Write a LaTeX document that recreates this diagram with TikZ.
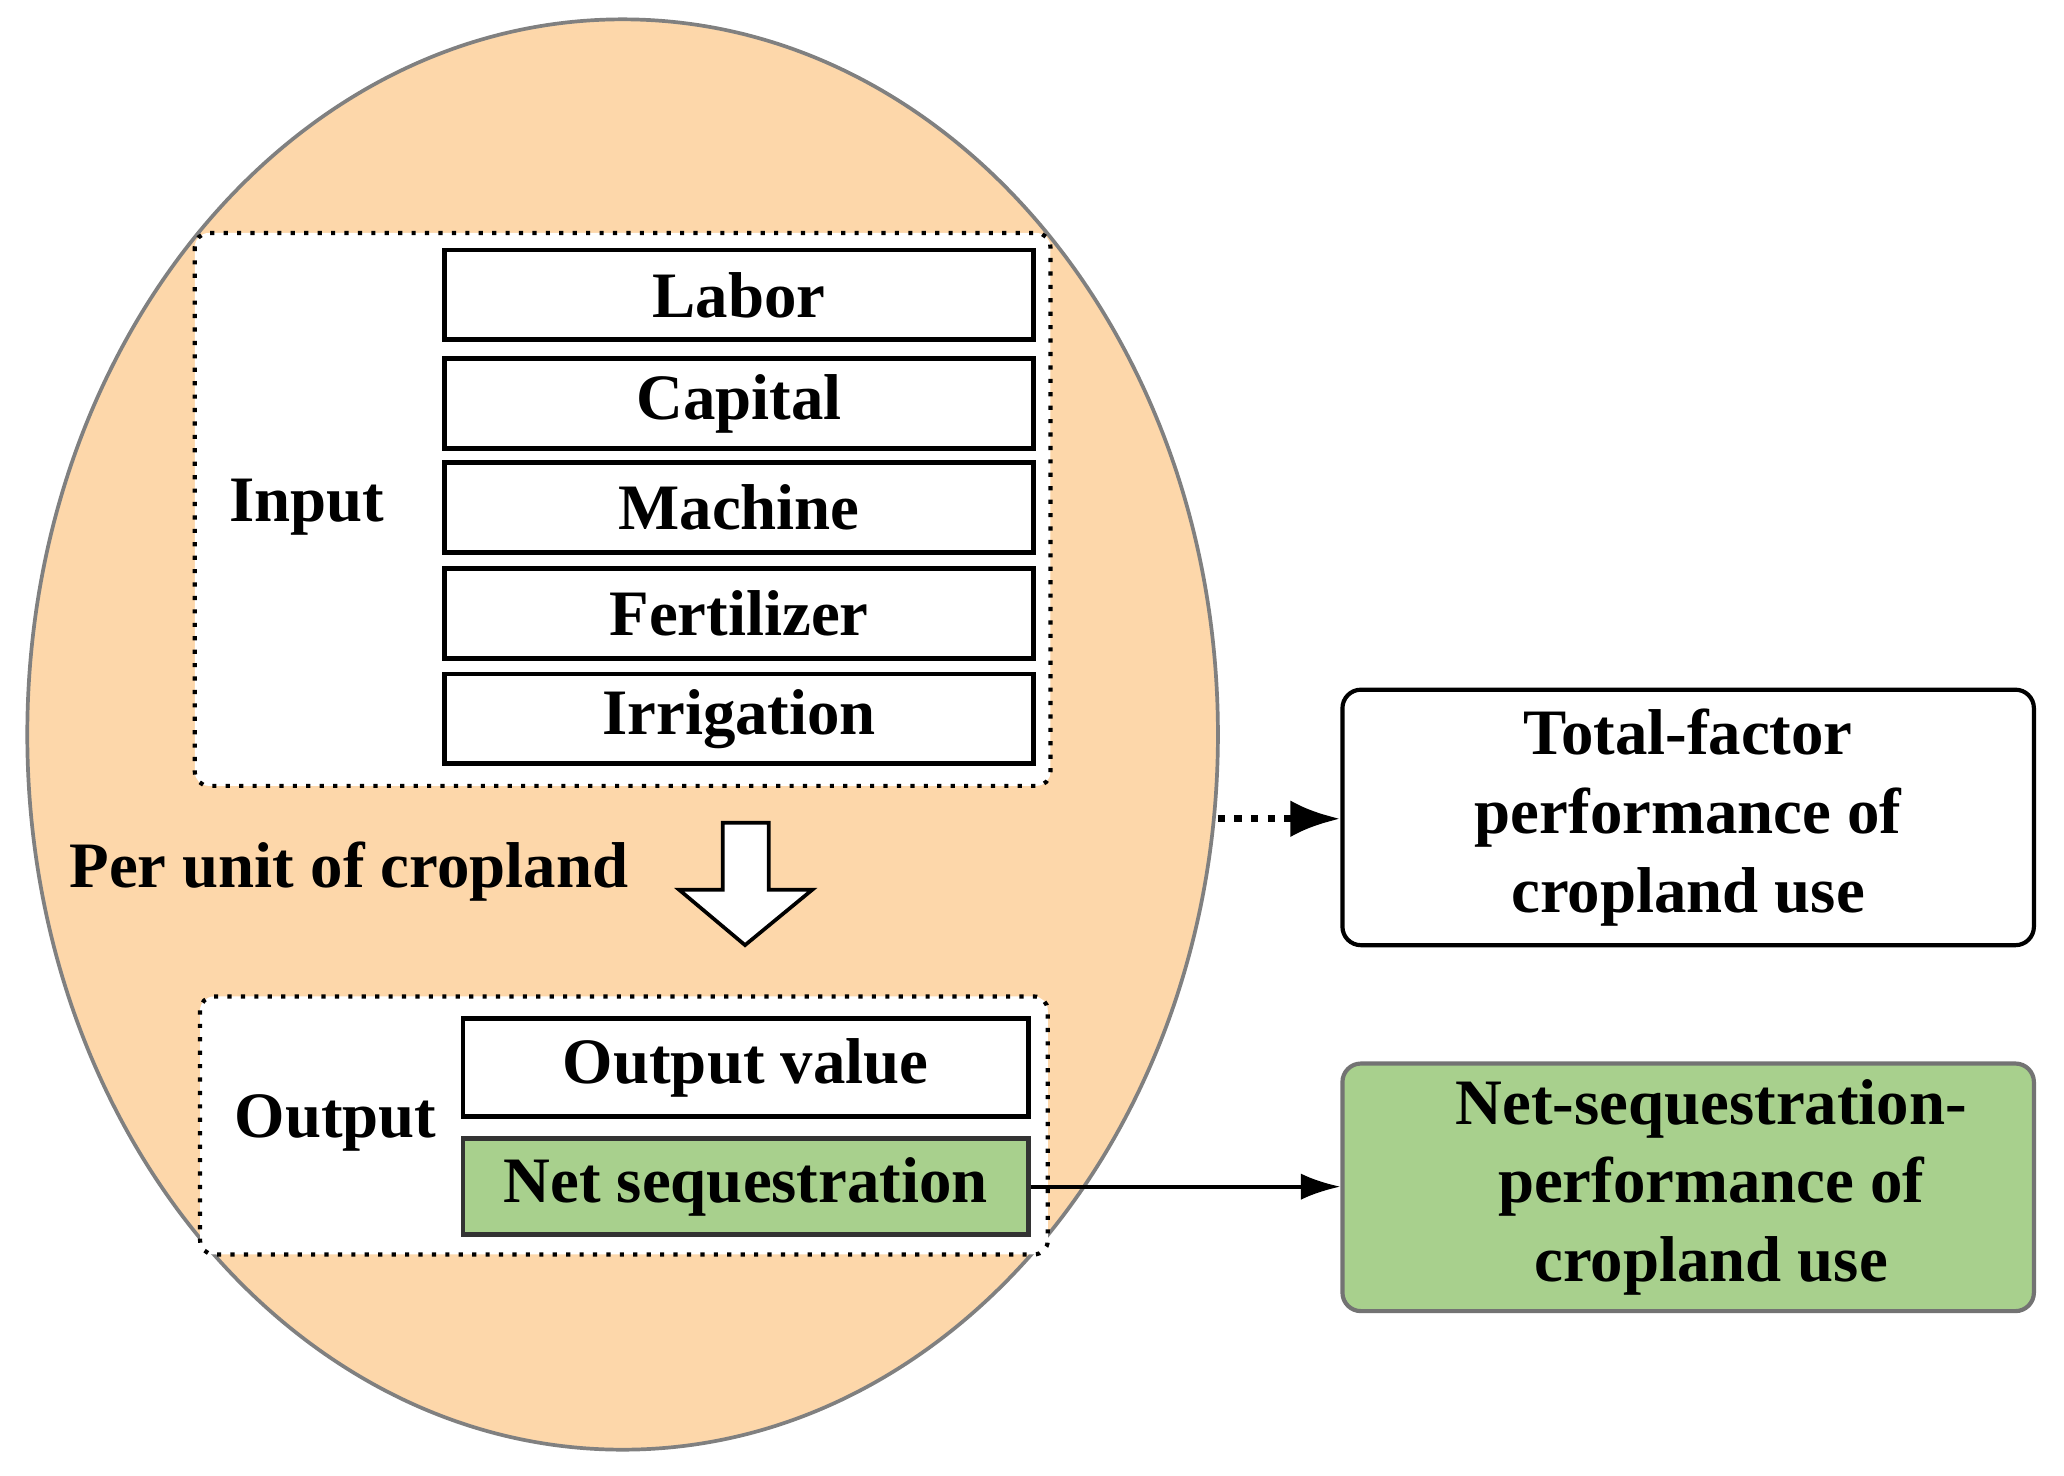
\documentclass[tikz,border=0pt]{standalone}
\usepackage{fontspec}
\setmainfont{Liberation Serif}
\usetikzlibrary{arrows.meta,shapes.geometric}
\definecolor{peach}{RGB}{253,215,170}
\definecolor{leaf}{RGB}{168,208,141}
\begin{document}
\begin{tikzpicture}[x=0.01cm,y=-0.01cm,
  every node/.style={font=\fontsize{14}{17}\selectfont\bfseries},
  item/.style={draw,fill=white,line width=1pt,minimum width=4.47cm,minimum height=0.68cm,inner sep=0pt},
  dotbox/.style={draw,fill=white,line width=0.9pt,dotted,rounded corners=3pt},
  res/.style={draw,line width=0.9pt,rounded corners=4pt,minimum width=5.25cm,align=center,inner sep=0pt}]
\useasboundingbox (0,0) rectangle (1568,1121);
\node[ellipse,draw=gray,fill=peach,line width=0.8pt,minimum width=9.04cm,minimum height=10.86cm,inner sep=0pt] (ell) at (473,558) {};
\draw[dotbox] (148,177) rectangle (798,597);
\draw[dotbox] (152,757) rectangle (796,953);
\node[item] (labor) at (561.5,224) {Labor};
\node[item] (capital) at (561.5,306.5) {Capital};
\node[item] (machine) at (561.5,385.5) {Machine};
\node[item] (fert) at (561.5,466) {Fertilizer};
\node[item] (irr) at (561.5,546) {Irrigation};
\node (input) at (233,385) {Input};
\node (per) at (265,662) {Per unit of cropland};
\draw[fill=white,line width=0.8pt] (549,625) -- (584,625) -- (584,676) -- (617,676) -- (566,718) -- (516,676) -- (549,676) -- cycle;
\node[item,minimum width=4.29cm,minimum height=0.74cm] (ov) at (566.5,811) {Output value};
\node[item,minimum width=4.29cm,minimum height=0.73cm,fill=leaf,draw=black!80] (ns) at (566.5,901.5) {Net sequestration};
\node (output) at (255,853) {Output};
\node[res,minimum height=1.94cm,fill=white] (tf) at (1282.5,621) {Total-factor\\performance of\\cropland use};
\node[res,minimum height=1.88cm,fill=leaf,draw=black!55] (nsp) at (1282.5,902) {\hspace*{0.35cm}Net-sequestration-\\\hspace*{0.35cm}performance of\\\hspace*{0.35cm}cropland use};
\coordinate (e) at (925,622);
\draw[line width=1.6pt,dotted,-{Latex[length=0.38cm,width=0.28cm]}] (e) -- (tf.west|-e);
\draw[line width=0.8pt,-{Latex[length=0.3cm,width=0.2cm]}] (ns.east) -- (nsp.west|-ns.east);
\end{tikzpicture}
\end{document}
